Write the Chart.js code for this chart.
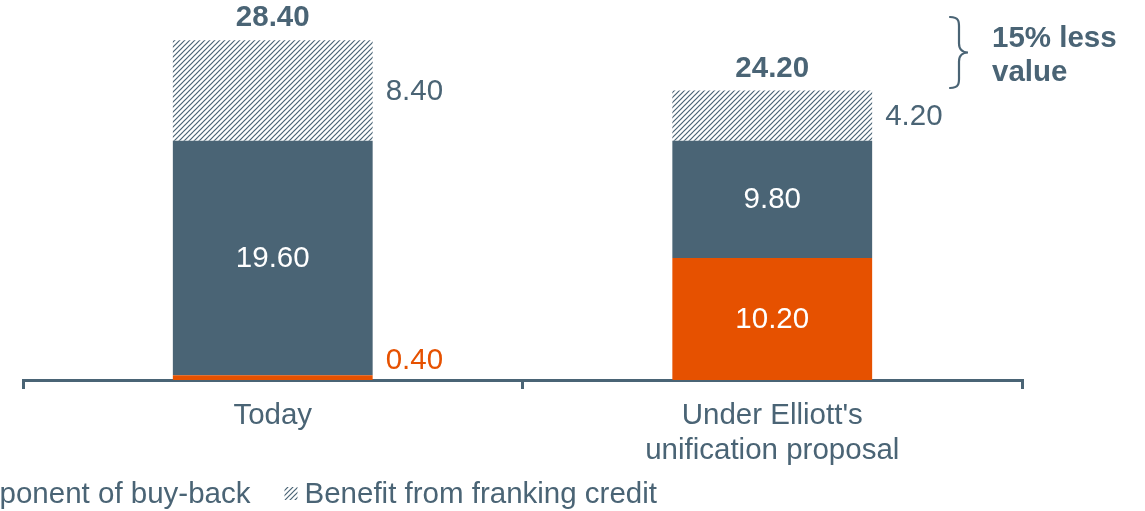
<!DOCTYPE html>
<html>
<head>
<meta charset="utf-8">
<script src="https://cdn.jsdelivr.net/npm/chart.js@4.4.0/dist/chart.umd.min.js"></script>
<style>
  html, body { margin: 0; padding: 0; background: #fff; overflow: hidden; }
  #wrap { position: relative; width: 1145px; height: 511px; }
</style>
</head>
<body>
<div id="wrap"><canvas id="myChart"></canvas></div>
<script>
// datos de la grafica
const categories = ['Today', ["Under Elliott's", 'unification proposal']];
const capitalComponent = [0.40, 10.20];
const dividendComponent = [19.60, 9.80];
const frankingBenefit = [8.40, 4.20];
const totals = [28.40, 24.20];
const seriesNames = ['Capital component of buy-back', 'Dividend component of buy-back', 'Benefit from franking credit'];

const SLATE = '#4a6475';
const ORANGE = '#e65100';
const FONT = "'Liberation Sans', Arial, sans-serif";
const FS = 29.5;

// patron rayado para el credito de franking
const makeHatch = () => {
    const n = 5;
    const c = document.createElement('canvas');
    c.width = n;
    c.height = n;
    const g = c.getContext('2d');
    g.fillStyle = '#fff';
    g.fillRect(0, 0, n, n);
    g.strokeStyle = SLATE;
    g.lineWidth = 1.2;
    g.beginPath();
    g.moveTo(-1, n + 1); g.lineTo(n + 1, -1);
    g.moveTo(-1, 1); g.lineTo(1, -1);
    g.moveTo(n - 1, n + 1); g.lineTo(n + 1, n - 1);
    g.stroke();
    return g.createPattern(c, 'repeat');
};
const hatch = makeHatch();

// etiquetas de los valores
const labelsPlugin = {
    id: 'valueLabels',
    afterDatasetsDraw(chart) {
        const ctx = chart.ctx;
        ctx.save();
        ctx.textBaseline = 'middle';
        chart.data.datasets.forEach((ds, di) => {
            const meta = chart.getDatasetMeta(di);
            meta.data.forEach((bar, i) => {
                const v = ds.data[i];
                const txt = v.toFixed(2);
                const right = bar.x + bar.width / 2;
                ctx.font = `${FS}px ${FONT}`;
                if (di === 2) {
                    ctx.fillStyle = SLATE;
                    ctx.textAlign = 'left';
                    ctx.fillText(txt, right + 13, (bar.y + bar.base) / 2 + 1);
                } else if (bar.base - bar.y < 30) {
                    ctx.fillStyle = ORANGE;
                    ctx.textAlign = 'left';
                    ctx.fillText(txt, right + 13, bar.base - 19);
                } else {
                    ctx.fillStyle = '#fff';
                    ctx.textAlign = 'center';
                    ctx.fillText(txt, bar.x, (bar.y + bar.base) / 2 + 1);
                }
            });
        });
        // totales
        const top = chart.getDatasetMeta(2);
        ctx.font = `bold ${FS}px ${FONT}`;
        ctx.fillStyle = SLATE;
        ctx.textAlign = 'center';
        top.data.forEach((bar, i) => {
            ctx.fillText(totals[i].toFixed(2), bar.x, bar.y - 22);
        });
        ctx.restore();
    }
};

// llave y anotacion "15% less value"
const bracePlugin = {
    id: 'brace',
    afterDraw(chart) {
        const ctx = chart.ctx;
        const x0 = 950, xm = 959, xp = 968;
        const y0 = 17, y1 = 88, ym = (y0 + y1) / 2;
        ctx.save();
        ctx.strokeStyle = SLATE;
        ctx.lineWidth = 2.2;
        ctx.lineCap = 'round';
        ctx.beginPath();
        ctx.moveTo(x0, y0);
        ctx.bezierCurveTo(xm + 1, y0, xm, y0 + 6, xm, y0 + 12);
        ctx.lineTo(xm, ym - 9);
        ctx.bezierCurveTo(xm, ym - 2, xp - 4, ym, xp, ym);
        ctx.bezierCurveTo(xp - 4, ym, xm, ym + 2, xm, ym + 9);
        ctx.lineTo(xm, y1 - 12);
        ctx.bezierCurveTo(xm, y1 - 6, xm + 1, y1, x0, y1);
        ctx.stroke();
        ctx.font = `bold ${FS}px ${FONT}`;
        ctx.fillStyle = SLATE;
        ctx.textAlign = 'left';
        ctx.textBaseline = 'middle';
        ctx.fillText('15% less', 992, 39);
        ctx.fillText('value', 992, 73);
        ctx.restore();
    }
};

// leyenda recortada a la izquierda (alineada a la derecha en x=657)
const legendPlugin = {
    id: 'cutLegend',
    afterDraw(chart) {
        const ctx = chart.ctx;
        const styles = [ORANGE, SLATE, hatch];
        ctx.save();
        ctx.font = `${FS}px ${FONT}`;
        ctx.textBaseline = 'middle';
        ctx.textAlign = 'left';
        let cursor = 657;
        const y = 494;
        for (let i = seriesNames.length - 1; i >= 0; i--) {
            const w = ctx.measureText(seriesNames[i]).width;
            const tx = cursor - w;
            ctx.fillStyle = SLATE;
            ctx.fillText(seriesNames[i], tx, y + 1);
            const bx = tx - 20;
            ctx.fillStyle = styles[i];
            ctx.fillRect(bx, y - 7, 13, 13);
            cursor = bx - 34;
        }
        ctx.restore();
    }
};

const ctx = document.getElementById('myChart').getContext('2d');
const myChart = new Chart(ctx, {
    type: 'bar',
    data: {
        labels: categories,
        datasets: [
            { label: seriesNames[0], data: capitalComponent, backgroundColor: ORANGE },
            { label: seriesNames[1], data: dividendComponent, backgroundColor: SLATE },
            { label: seriesNames[2], data: frankingBenefit, backgroundColor: hatch }
        ]
    },
    options: {
        responsive: true,
        maintainAspectRatio: false,
        animation: false,
        devicePixelRatio: 1,
        datasets: { bar: { barPercentage: 0.4, categoryPercentage: 1 } },
        layout: { padding: { left: 23, right: 123, top: 21, bottom: 0 } },
        plugins: { legend: { display: false }, tooltip: { enabled: false } },
        scales: {
            x: {
                stacked: true,
                grid: { display: true, drawOnChartArea: false, offset: true, tickLength: 9, color: SLATE, lineWidth: 3 },
                border: { display: true, color: SLATE, width: 3 },
                ticks: { color: SLATE, font: { size: FS, family: FONT }, padding: 9, maxRotation: 0 },
                afterFit: (s) => { s.height = 131; }
            },
            y: {
                stacked: true,
                display: false,
                min: 0,
                max: 30
            }
        }
    },
    plugins: [labelsPlugin, bracePlugin, legendPlugin]
});
</script>
</body>
</html>
